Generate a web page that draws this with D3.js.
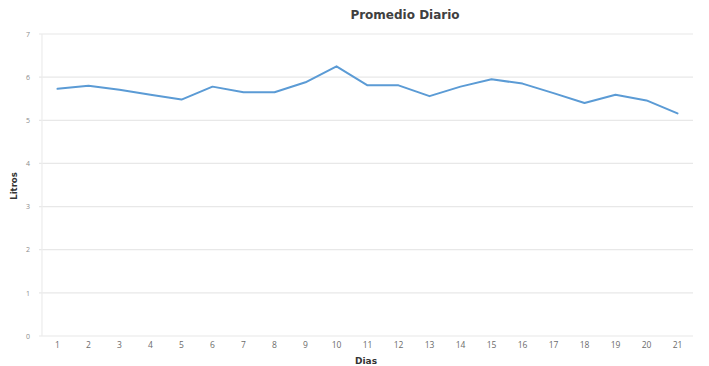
<!DOCTYPE html>
<html>
<head>
<meta charset="utf-8">
<script src="https://cdn.jsdelivr.net/npm/d3@7"></script>
<style>
  html, body { margin: 0; padding: 0; background: #fff; }
  svg { display: block; font-family: "Open Sans", "Liberation Sans", sans-serif; }
</style>
</head>
<body>
<svg id="chart" width="709" height="366"></svg>
<script>
// Daily average consumption (litres) for days 1–21
const dias = ["1","2","3","4","5","6","7","8","9","10","11","12","13","14","15","16","17","18","19","20","21"];
const litros = [5.73, 5.80, 5.71, 5.59, 5.48, 5.78, 5.65, 5.65, 5.88, 6.25, 5.81, 5.81, 5.56, 5.78, 5.95, 5.85, 5.63, 5.40, 5.59, 5.46, 5.16];
const yTicks = [0, 1, 2, 3, 4, 5, 6, 7];

const svg = d3.select("#chart");
const margin = { left: 42, right: 16, top: 34, bottom: 30 };
const W = 709, H = 366;

const x = d3.scaleBand().domain(dias).range([margin.left, W - margin.right]);
const y = d3.scaleLinear().domain([0, 7]).range([H - margin.bottom, margin.top]);

// horizontal gridlines
svg.append("g")
  .selectAll("line")
  .data(yTicks)
  .join("line")
  .attr("x1", margin.left - 3)
  .attr("x2", W - margin.right)
  .attr("y1", d => y(d))
  .attr("y2", d => y(d))
  .attr("stroke", "#e8e8e8")
  .attr("stroke-width", 1.2);

// left axis line
svg.append("line")
  .attr("x1", margin.left).attr("x2", margin.left)
  .attr("y1", y(7)).attr("y2", y(0))
  .attr("stroke", "#ececec").attr("stroke-width", 1.2);

// y tick labels
const yAxis = d3.axisLeft(y).tickValues(yTicks).tickFormat(d3.format("d")).tickSize(0).tickPadding(12);
svg.append("g")
  .attr("transform", `translate(${margin.left},0)`)
  .call(yAxis)
  .call(g => g.select(".domain").remove())
  .call(g => g.selectAll("text")
    .attr("fill", "#8c8c8c")
    .attr("font-size", 7)
    .attr("font-family", "Open Sans, sans-serif"));

// x tick labels
const xAxis = d3.axisBottom(x).tickSize(0).tickPadding(6);
svg.append("g")
  .attr("transform", `translate(0,${y(0)})`)
  .call(xAxis)
  .call(g => g.select(".domain").remove())
  .call(g => g.selectAll("text")
    .attr("fill", "#6b6b6b")
    .attr("font-size", 8.5)
    .attr("font-family", "Open Sans, sans-serif"));

// data line
const line = d3.line()
  .x((d, i) => x(dias[i]) + x.bandwidth() / 2)
  .y(d => y(d));

svg.append("path")
  .datum(litros)
  .attr("d", line)
  .attr("fill", "none")
  .attr("stroke", "#5b9bd5")
  .attr("stroke-width", 2)
  .attr("stroke-linejoin", "round")
  .attr("stroke-linecap", "round");

// title
svg.append("text")
  .attr("x", 405).attr("y", 19)
  .attr("text-anchor", "middle")
  .attr("font-size", 12)
  .attr("font-weight", "bold")
  .attr("font-family", "DejaVu Sans, sans-serif")
  .attr("fill", "#404040")
  .text("Promedio Diario");

// x axis title
svg.append("text")
  .attr("x", 366).attr("y", 364)
  .attr("text-anchor", "middle")
  .attr("font-size", 9)
  .attr("font-weight", "bold")
  .attr("font-family", "DejaVu Sans, sans-serif")
  .attr("fill", "#333")
  .text("Dias");

// y axis title
svg.append("text")
  .attr("transform", "translate(17,186) rotate(-90)")
  .attr("text-anchor", "middle")
  .attr("font-size", 8.5)
  .attr("font-weight", "bold")
  .attr("font-family", "DejaVu Sans, sans-serif")
  .attr("fill", "#333")
  .text("Litros");
</script>
</body>
</html>
